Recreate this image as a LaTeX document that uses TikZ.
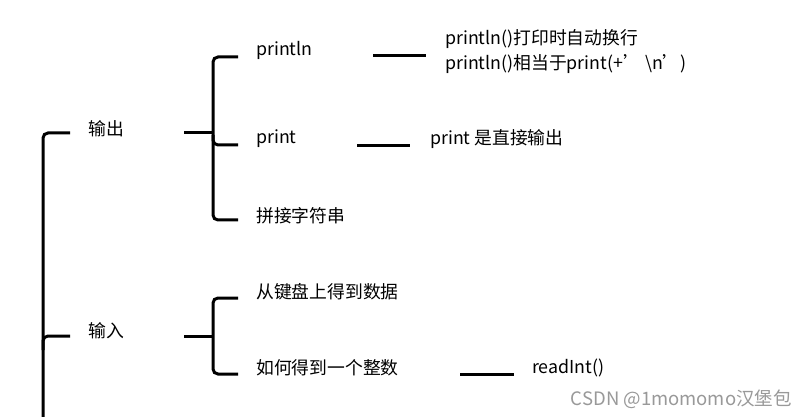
\documentclass[tikz,border=0pt]{standalone}
\usepackage{fontspec}
\setmainfont{Noto Sans CJK SC}
\begin{document}
\begin{tikzpicture}[x=1pt,y=-1pt,
  txt/.style={anchor=west,inner sep=0pt,font=\fontsize{17.8}{25}\selectfont},
  ln/.style={line width=3pt,rounded corners=5pt},
  wm/.style={anchor=east,inner sep=0pt,text=black!40,font=\fontsize{18.5}{22}\selectfont}]
\useasboundingbox[fill=white] (0,0) rectangle (804,417);
% text nodes
\node[txt] (out) at (88,129) {输出};
\node[txt] (in) at (88,331) {输入};
\node[txt] (pl) at (256,50) {println};
\node[txt] (pr) at (256,139) {print};
\node[txt] (cat) at (256,216) {拼接字符串};
\node[txt] (kb) at (256,292) {从键盘上得到数据};
\node[txt] (int) at (256,368) {如何得到一个整数};
\node[txt,align=left] (pldesc) at (445,52) {println()打印时自动换行\\println()相当于print(+’ \textbackslash n’)};
\node[txt] (prdesc) at (430,139) {print 是直接输出};
\node[txt] (ri) at (532,368) {readInt()};
\node[wm] (wmk) at (792,399) {CSDN @1momomo汉堡包};
% connector end points
\coordinate (rootO) at (70,133);
\coordinate (rootI) at (70,336);
\coordinate (rootB) at (43,417);
\coordinate (outS) at (184,133);
\coordinate (outJ) at (213,133);
\coordinate (plE) at (238,57);
\coordinate (prE) at (238,145);
\coordinate (catE) at (238,220);
\coordinate (inS) at (184,336);
\coordinate (inJ) at (213,336);
\coordinate (kbE) at (238,298);
\coordinate (intE) at (238,374);
\coordinate (plA) at (373,56);
\coordinate (plB) at (426,56);
\coordinate (prA) at (357,146);
\coordinate (prB) at (410,146);
\coordinate (riA) at (460,374);
\coordinate (riB) at (514,374);
% root bracket
\draw[ln] (rootO) -| (rootB);
\draw[ln] (rootI) -- (43,336) -- (43,350);
% output bracket
\draw[ln] (outS) -- (outJ);
\draw[ln] (plE) -- (213,57) -- (213,220) -- (catE);
\draw[ln] (213,135) -- (213,145) -- (prE);
% input bracket
\draw[ln] (inS) -- (inJ);
\draw[ln] (kbE) -- (213,298) -- (213,374) -- (intE);
% detail lines
\draw[ln] (plA) -- (plB);
\draw[ln] (prA) -- (prB);
\draw[ln] (riA) -- (riB);
\end{tikzpicture}
\end{document}
